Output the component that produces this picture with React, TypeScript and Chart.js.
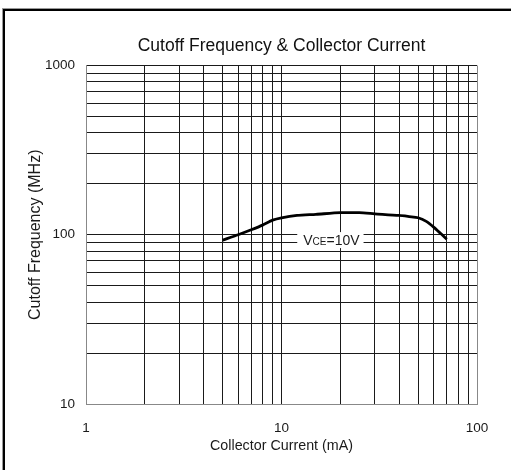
import React, { useEffect, useRef } from "react";
import { Chart, registerables } from "chart.js";

Chart.register(...registerables);

// ---- data ----
const currentMA = [5, 6, 7, 8, 9, 10, 12, 15, 20, 25, 30, 40, 45, 50, 55, 60, 65, 70];
const cutoffMHz = [93, 100, 107, 114, 122, 126, 130, 132, 135, 135, 133, 130, 128, 126, 120, 111, 102, 94];
const xGridTicks = [1, 2, 3, 4, 5, 6, 7, 8, 9, 10, 20, 30, 40, 50, 60, 70, 80, 90, 100];
const xTickLabels = [1, 10, 100];
const yGridTicks = [10, 20, 30, 40, 50, 60, 70, 80, 90, 100, 200, 300, 400, 500, 600, 700, 800, 900, 1000];
const yTickLabels = [10, 100, 1000];
const annotationParts = ["V", "CE", "=10V"];
const annotationAnchor = { x: 18, y: 93 };

const FONT = '"Liberation Sans", Arial, Helvetica, sans-serif';

const vcePlugin = {
  id: "vceLabel",
  beforeDatasetsDraw(chart: any) {
    const { ctx, scales } = chart;
    const cx = scales.x.getPixelForValue(annotationAnchor.x);
    const cy = scales.y.getPixelForValue(annotationAnchor.y);
    const big = `14px ${FONT}`;
    const small = `10px ${FONT}`;
    ctx.save();
    ctx.font = big;
    const w1 = ctx.measureText(annotationParts[0]).width;
    const w3 = ctx.measureText(annotationParts[2]).width;
    ctx.font = small;
    const w2 = ctx.measureText(annotationParts[1]).width;
    const total = w1 + w2 + w3;
    const left = cx - total / 2;
    ctx.fillStyle = "#ffffff";
    ctx.fillRect(left - 6, cy - 8, total + 10, 16);
    ctx.fillStyle = "#1a1a1a";
    ctx.textBaseline = "alphabetic";
    ctx.textAlign = "left";
    const base = cy + 5;
    ctx.font = big;
    ctx.fillText(annotationParts[0], left, base);
    ctx.font = small;
    ctx.fillText(annotationParts[1], left + w1, base);
    ctx.font = big;
    ctx.fillText(annotationParts[2], left + w1 + w2, base);
    ctx.restore();
  },
};

export default function App() {
  const ref = useRef<HTMLCanvasElement | null>(null);

  useEffect(() => {
    if (!ref.current) return;
    Chart.defaults.font.family = FONT;
    const chart = new Chart(ref.current, {
      type: "line",
      data: {
        datasets: [
          {
            data: currentMA.map((x, i) => ({ x, y: cutoffMHz[i] })),
            borderColor: "#000000",
            borderWidth: 2.8,
            pointRadius: 0,
            tension: 0.25,
            fill: false,
          },
        ],
      },
      options: {
        animation: false,
        responsive: false,
        devicePixelRatio: 1,
        layout: { padding: { left: 0, right: 34, top: 0, bottom: 0 } },
        plugins: {
          legend: { display: false },
          tooltip: { enabled: false },
          title: {
            display: true,
            fullSize: false,
            text: "Cutoff Frequency & Collector Current",
            color: "#111111",
            font: { size: 17.5, weight: "normal", family: FONT },
            padding: { top: 35.5, bottom: 9 },
          },
        },
        scales: {
          x: {
            type: "logarithmic",
            min: 1,
            max: 100,
            afterBuildTicks: (s: any) => {
              s.ticks = xGridTicks.map((v) => ({ value: v }));
            },
            afterFit: (s: any) => {
              s.height = 66;
            },
            ticks: {
              autoSkip: false,
              maxRotation: 0,
              padding: 16,
              color: "#1a1a1a",
              font: { size: 13.5, family: FONT },
              callback: (v: any) => (xTickLabels.includes(Number(v)) ? String(v) : ""),
            },
            grid: {
              drawTicks: false,
              lineWidth: 1,
              color: (c: any) => {
                const v = c.tick ? c.tick.value : 0;
                return v === 1 || v === 100 ? "#888888" : "#1a1a1a";
              },
            },
            border: { display: true, color: "#888888", width: 1 },
            title: {
              display: true,
              text: "Collector Current (mA)",
              color: "#1a1a1a",
              font: { size: 14.3, family: FONT },
              padding: { top: 0, bottom: 15.4 },
            },
          },
          y: {
            type: "logarithmic",
            min: 10,
            max: 1000,
            afterBuildTicks: (s: any) => {
              s.ticks = yGridTicks.map((v) => ({ value: v }));
            },
            afterFit: (s: any) => {
              s.width = 86;
            },
            ticks: {
              autoSkip: false,
              padding: 11,
              color: "#1a1a1a",
              font: { size: 13.5, family: FONT },
              callback: (v: any) => (yTickLabels.includes(Number(v)) ? String(v) : ""),
            },
            grid: {
              drawTicks: false,
              lineWidth: 1,
              color: (c: any) => {
                const v = c.tick ? c.tick.value : 0;
                return v === 10 ? "#888888" : "#1a1a1a";
              },
            },
            border: { display: true, color: "#888888", width: 1 },
            title: {
              display: true,
              text: "Cutoff Frequency (MHz)",
              color: "#1a1a1a",
              font: { size: 16, family: FONT },
              padding: { top: 26.4, bottom: 0 },
            },
          },
        },
      },
      plugins: [vcePlugin],
    });
    return () => chart.destroy();
  }, []);

  return (
    <div style={{ position: "absolute", left: 0, top: 0, width: 511, height: 470, overflow: "hidden", background: "#ffffff" }}>
      <div
        style={{
          position: "absolute",
          left: 3,
          top: 9,
          width: 560,
          height: 520,
          borderLeft: "2px solid #000",
          borderTop: "2px solid #000",
          boxShadow: "-1px -1px 0 #999",
        }}
      />
      <canvas ref={ref} width={511} height={470} style={{ position: "absolute", left: 0, top: 0, display: "block" }} />
    </div>
  );
}
